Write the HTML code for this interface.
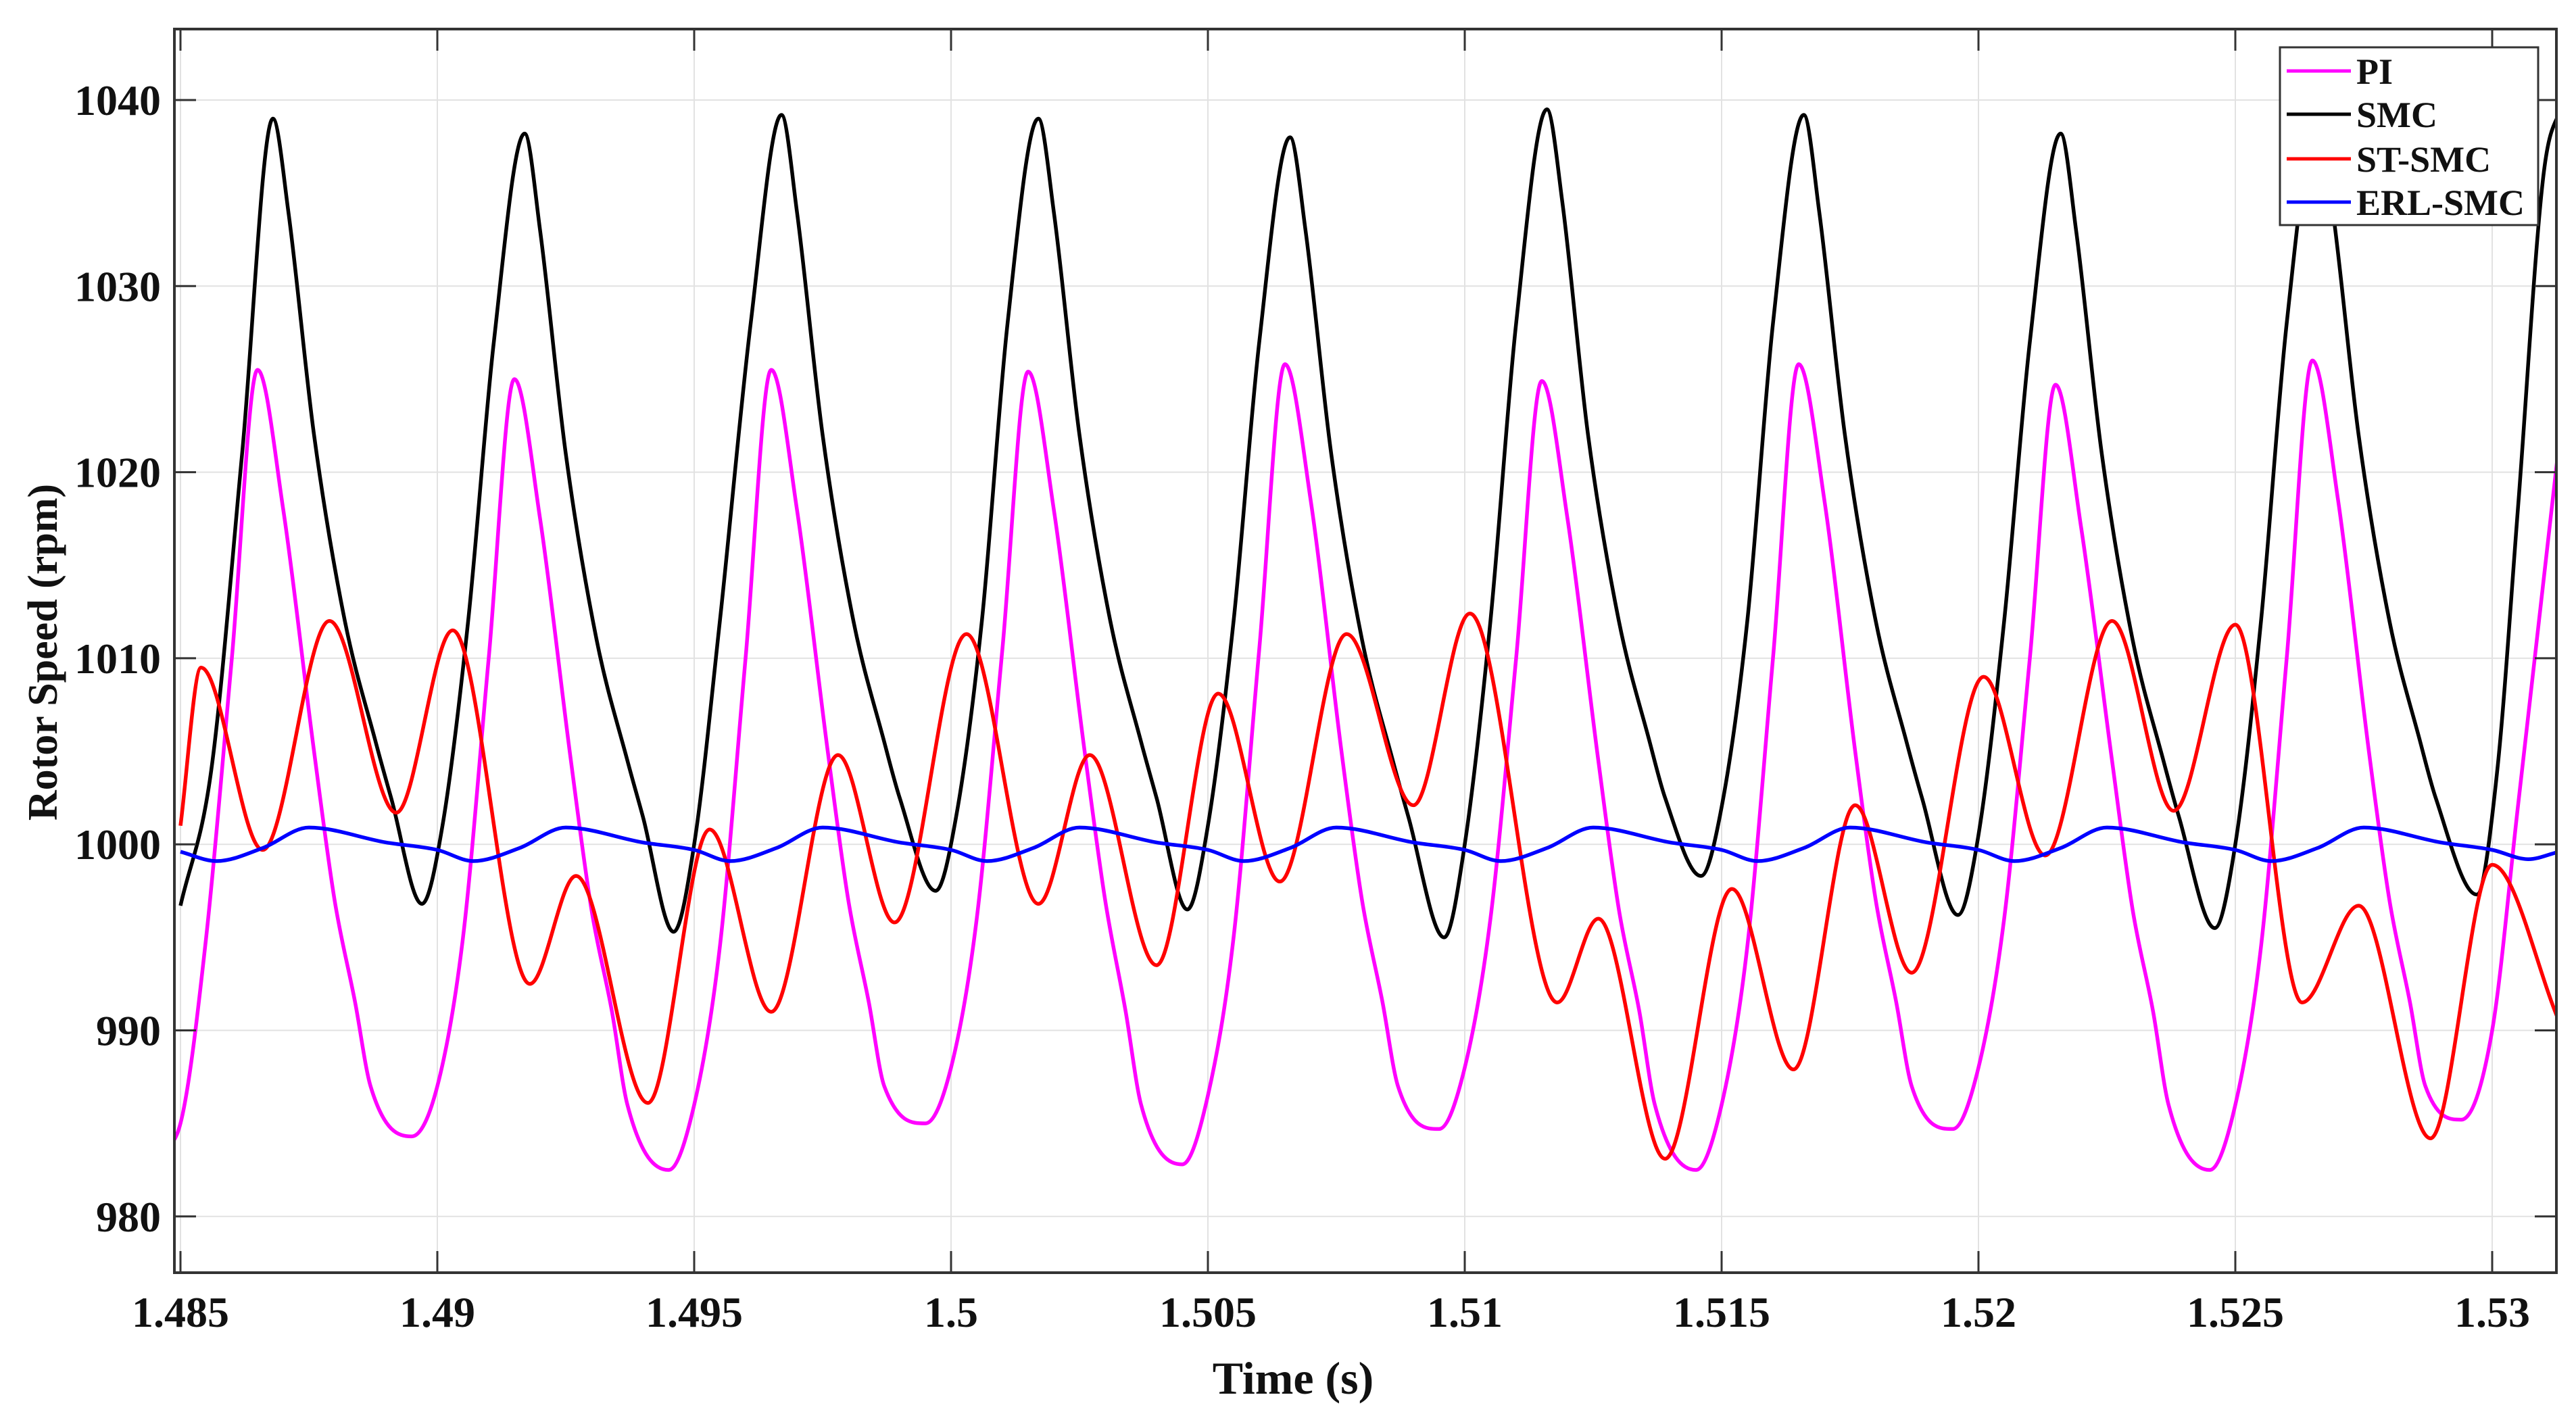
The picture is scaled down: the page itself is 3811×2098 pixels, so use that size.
<!DOCTYPE html>
<html><head><meta charset="utf-8"><style>
html,body{margin:0;padding:0;background:#fff;}
svg{display:block;}
text{font-family:"Liberation Serif",serif;font-weight:bold;fill:#111;}
</style></head><body>
<svg id="chart" width="3811" height="2098" viewBox="0 0 3811 2098">
<rect x="0" y="0" width="3811" height="2098" fill="#fff"/>
<g id="grid"></g>
<g id="series"></g>
<g id="axes"></g>
<text x="1913" y="2062" font-size="68" text-anchor="middle">Time (s)</text>
<text transform="translate(84,965) rotate(-90)" font-size="62" text-anchor="middle">Rotor Speed (rpm)</text>
<g>
<rect x="3373" y="70" width="382" height="263" fill="#fff" stroke="#333" stroke-width="3"/>
<g><line x1="3383" y1="105" x2="3478" y2="105" stroke="#ff00ff" stroke-width="5"/><text x="3486" y="124" font-size="54">PI</text></g>
<g><line x1="3383" y1="169" x2="3478" y2="169" stroke="#000" stroke-width="5"/><text x="3486" y="188" font-size="54">SMC</text></g>
<g><line x1="3383" y1="235" x2="3478" y2="235" stroke="#ff0000" stroke-width="5"/><text x="3486" y="254" font-size="54">ST-SMC</text></g>
<g><line x1="3383" y1="299" x2="3478" y2="299" stroke="#0000ff" stroke-width="5"/><text x="3486" y="318" font-size="54">ERL-SMC</text></g>
</g>
</svg>
<script>
const xTicks=[1.485,1.49,1.495,1.5,1.505,1.51,1.515,1.52,1.525,1.53];
const xTickLabels=["1.485","1.49","1.495","1.5","1.505","1.51","1.515","1.52","1.525","1.53"];
const yTicks=[980,990,1000,1010,1020,1030,1040];
const yTickLabels=["980","990","1000","1010","1020","1030","1040"];

const piT=[1.4846,1.4850,1.4855,1.4860,1.4865,1.4870,1.4876,1.4880,1.4884,1.4887,1.4895,1.4900,1.4905,1.4910,1.4915,1.4920,1.4926,1.4930,1.4934,1.4937,1.4945,1.4950,1.4955,1.4960,1.4965,1.4970,1.4976,1.4980,1.4984,1.4987,1.4995,1.5000,1.5005,1.5010,1.5015,1.5020,1.5026,1.5030,1.5034,1.5037,1.5045,1.5050,1.5055,1.5060,1.5065,1.5070,1.5076,1.5080,1.5084,1.5087,1.5095,1.5100,1.5105,1.5110,1.5115,1.5120,1.5126,1.5130,1.5134,1.5137,1.5145,1.5150,1.5155,1.5160,1.5165,1.5170,1.5176,1.5180,1.5184,1.5187,1.5195,1.5200,1.5205,1.5210,1.5215,1.5220,1.5226,1.5230,1.5234,1.5237,1.5245,1.5250,1.5255,1.5260,1.5265,1.5270,1.5276,1.5280,1.5284,1.5287,1.5294,1.5300,1.5305,1.5313];
const piV=[983.5,985,995,1010,1025.5,1018,1005,997,991.5,987,984.3,987,995,1010,1025,1017.5,1004.5,996.5,991,986,982.5,986,994.5,1010,1025.5,1018,1005,997,991.5,987,985,988,996,1010.5,1025.4,1018,1005,997,991,986,982.8,986.5,995,1010.5,1025.8,1018.5,1005,997,991.5,987,984.7,988,996,1010,1024.9,1017.5,1004.5,996.5,991,986,982.5,986,994.5,1010,1025.8,1018.5,1005,997,991.5,987,984.7,988,996,1010,1024.7,1017,1004.5,996.5,991,986,982.5,986,994.5,1010,1026,1018.5,1005,997,991.5,987,985.2,990,1002,1021.5];

const smcT=[1.4850,1.4856,1.4862,1.4868,1.4871,1.4876,1.4882,1.4888,1.4891,1.4897,1.4901,1.4906,1.4911,1.4917,1.4920,1.4925,1.4931,1.4937,1.4940,1.4946,1.4950,1.4955,1.4961,1.4967,1.4970,1.4975,1.4981,1.4987,1.4990,1.4997,1.5001,1.5006,1.5011,1.5017,1.5020,1.5025,1.5031,1.5037,1.5040,1.5046,1.5050,1.5055,1.5060,1.5066,1.5069,1.5074,1.5080,1.5086,1.5089,1.5096,1.5100,1.5105,1.5110,1.5116,1.5119,1.5124,1.5130,1.5136,1.5139,1.5146,1.5150,1.5155,1.5160,1.5166,1.5169,1.5174,1.5180,1.5186,1.5189,1.5196,1.5200,1.5205,1.5210,1.5216,1.5219,1.5224,1.5230,1.5236,1.5239,1.5246,1.5250,1.5255,1.5260,1.5266,1.5269,1.5274,1.5280,1.5286,1.5289,1.5297,1.5301,1.5305,1.5310,1.5314];
const smcV=[996.7,1004,1021,1039,1034,1022,1012,1005.5,1002.5,996.8,1001,1012,1027,1038.2,1033,1021,1011,1004.5,1001.5,995.3,1000,1012,1028,1039.2,1034,1022,1012,1005.5,1002.5,997.5,1001.5,1012,1028,1039,1034,1022,1012,1005.5,1002.5,996.5,1001,1012,1027,1038,1033,1021,1011,1004.5,1001.5,995,1000,1012,1028,1039.5,1034.5,1022,1012,1005.5,1002.5,998.3,1002,1012,1028,1039.2,1034,1022,1012,1005.5,1002.5,996.2,1000.5,1012,1027,1038.2,1033,1021,1011,1004.5,1001.5,995.5,1000,1012,1028,1039,1034,1022,1012,1005.5,1002.5,997.3,1004,1018,1036,1040];

const stT=[1.4850,1.4854,1.4866,1.4879,1.4892,1.4903,1.4918,1.4927,1.4941,1.4953,1.4965,1.4978,1.4989,1.5003,1.5017,1.5027,1.5040,1.5052,1.5064,1.5077,1.5090,1.5101,1.5118,1.5126,1.5139,1.5152,1.5164,1.5176,1.5187,1.5201,1.5213,1.5226,1.5238,1.5250,1.5263,1.5274,1.5288,1.5300,1.5313];
const stV=[1001,1009.5,999.7,1012,1001.7,1011.5,992.5,998.3,986.1,1000.8,991,1004.8,995.8,1011.3,996.8,1004.8,993.5,1008.1,998,1011.3,1002.1,1012.4,991.5,996,983.1,997.6,987.9,1002.1,993.1,1009,999.4,1012,1001.8,1011.8,991.5,996.7,984.2,998.9,990.5];

const erlT=[1.4850,1.4857,1.4866,1.4875,1.4890,1.4900,1.4907,1.4916,1.4925,1.4940,1.4950,1.4957,1.4966,1.4975,1.4990,1.5000,1.5007,1.5016,1.5025,1.5040,1.5050,1.5057,1.5066,1.5075,1.5090,1.5100,1.5107,1.5116,1.5125,1.5140,1.5150,1.5157,1.5166,1.5175,1.5190,1.5200,1.5207,1.5216,1.5225,1.5240,1.5250,1.5257,1.5266,1.5275,1.5290,1.5300,1.5307,1.5313];
const erlV=[999.6,999.1,999.8,1000.9,1000.1,999.7,999.1,999.8,1000.9,1000.1,999.7,999.1,999.8,1000.9,1000.1,999.7,999.1,999.8,1000.9,1000.1,999.7,999.1,999.8,1000.9,1000.1,999.7,999.1,999.8,1000.9,1000.1,999.7,999.1,999.8,1000.9,1000.1,999.7,999.1,999.8,1000.9,1000.1,999.7,999.1,999.8,1000.9,1000.1,999.7,999.2,999.6];

const L=258,R=3782,T=43,B=1883;
const xmin=1.485-9/380*0.005, xmax=1.485+3515/380*0.005;
const ymin=1040-(B-148)/275.3*10, ymax=1040+(148-T)/275.3*10;
function X(t){return L+(t-xmin)/(xmax-xmin)*(R-L);}
function Y(v){return B-(v-ymin)/(ymax-ymin)*(B-T);}
const NS="http://www.w3.org/2000/svg";
function mk(tag,attrs,parent){const e=document.createElementNS(NS,tag);for(const k in attrs)e.setAttribute(k,attrs[k]);parent.appendChild(e);return e;}

const grid=document.getElementById('grid'),axes=document.getElementById('axes'),series=document.getElementById('series');
xTicks.forEach((t,i)=>{
  const g=mk('line',{x1:X(t),x2:X(t),y1:T,y2:B,stroke:'#e2e2e2','stroke-width':2},grid);
  
  
  const tk=mk('line',{x1:X(t),x2:X(t),y1:B,y2:B-32,stroke:'#333','stroke-width':3},axes);
  
  
  const tk2=mk('line',{x1:X(t),x2:X(t),y1:T,y2:T+32,stroke:'#333','stroke-width':3},axes);
  
  
  const lb=mk('text',{x:X(t),y:1963,'font-size':64,'text-anchor':'middle'},axes);
  lb.textContent=xTickLabels[i];
  
  
});
yTicks.forEach((v,i)=>{
  const g=mk('line',{x1:L,x2:R,y1:Y(v),y2:Y(v),stroke:'#e2e2e2','stroke-width':2},grid);
  
  
  const tk=mk('line',{x1:L,x2:L+32,y1:Y(v),y2:Y(v),stroke:'#333','stroke-width':3},axes);
  
  
  const tk2=mk('line',{x1:R,x2:R-32,y1:Y(v),y2:Y(v),stroke:'#333','stroke-width':3},axes);
  
  
  const lb=mk('text',{x:238,y:Y(v)+22,'font-size':64,'text-anchor':'end'},axes);
  lb.textContent=yTickLabels[i];
  
  
});
const box=mk('rect',{x:L,y:T,width:R-L,height:B-T,fill:'none',stroke:'#333','stroke-width':4},axes);



function path(ts,vs){
  const n=ts.length,x=ts.map(X),y=vs.map(Y),d=[],m=[];
  for(let i=0;i<n-1;i++)d.push((y[i+1]-y[i])/(x[i+1]-x[i]));
  m[0]=d[0];m[n-1]=d[n-2];
  for(let i=1;i<n-1;i++){m[i]=(d[i-1]*d[i]<=0)?0:(d[i-1]+d[i])/2;}
  for(let i=0;i<n-1;i++){if(d[i]===0){m[i]=0;m[i+1]=0;continue;}const a=m[i]/d[i],b=m[i+1]/d[i],s=a*a+b*b;if(s>9){const tt=3/Math.sqrt(s);m[i]=tt*a*d[i];m[i+1]=tt*b*d[i];}}
  let p='M'+x[0].toFixed(1)+','+y[0].toFixed(1);
  for(let i=0;i<n-1;i++){const h=(x[i+1]-x[i])/3;p+='C'+(x[i]+h).toFixed(1)+','+(y[i]+m[i]*h).toFixed(1)+' '+(x[i+1]-h).toFixed(1)+','+(y[i+1]-m[i+1]*h).toFixed(1)+' '+x[i+1].toFixed(1)+','+y[i+1].toFixed(1);}
  return p;
}
const cp=mk('clipPath',{id:'clip'},series);mk('rect',{x:L,y:T,width:R-L,height:B-T},cp);
const defs=[[piT,piV,'#ff00ff','series-pi'],[smcT,smcV,'#000000','series-smc'],[stT,stV,'#ff0000','series-st-smc'],[erlT,erlV,'#0000ff','series-erl-smc']];
defs.forEach(s=>{
  const p=mk('path',{d:path(s[0],s[1]),fill:'none',stroke:s[2],'stroke-width':5.5,'stroke-linejoin':'round','clip-path':'url(#clip)'},series);
  
  
});
</script>
</body></html>
